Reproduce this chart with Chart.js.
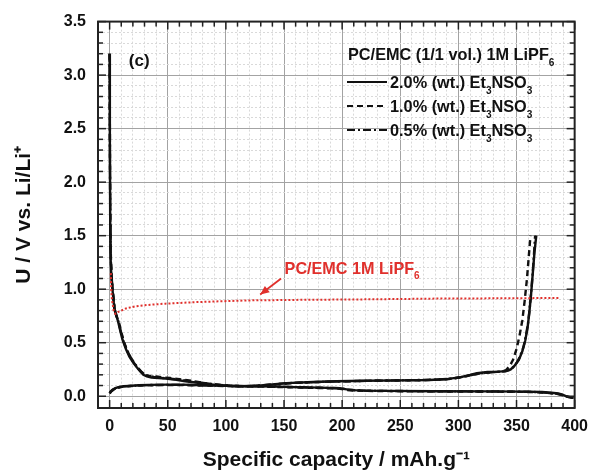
<!DOCTYPE html>
<html>
<head>
<meta charset="utf-8">
<script src="https://cdn.jsdelivr.net/npm/chart.js@4.4.1/dist/chart.umd.min.js"></script>
<style>
html,body{margin:0;padding:0;background:#fff;}
#c{display:block;}
</style>
</head>
<body>
<canvas id="c" width="597" height="475"></canvas>
<script>
// ---------- data ----------
const xTickValues = [0, 50, 100, 150, 200, 250, 300, 350, 400];
const yTickValues = [0.0, 0.5, 1.0, 1.5, 2.0, 2.5, 3.0, 3.5];
const xMinorStep = 10;
const yMinorStep = 0.1;

// 2.0 % (wt.) Et3NSO3 - solid
const s20UpX = [0,0.2,0.5,0.8,1.5,2.5,4,5.5,7,9, 11,14,17,20,23,26,29,32,36,42, 48,56,65,74,82,92,104,117,130,152, 175,195,220,250,275,290,302,310,316,325, 335,341,345,348,352,355,357.5,359.5,361,362.5, 364,365.5,367];
const s20UpY = [3.2,2.4,1.6,1.3,1.12,0.99,0.82,0.76,0.71,0.62, 0.53,0.44,0.37,0.32,0.275,0.235,0.2,0.185,0.175,0.17, 0.165,0.155,0.14,0.128,0.115,0.105,0.095,0.092,0.1,0.122, 0.133,0.14,0.144,0.148,0.152,0.16,0.178,0.198,0.215,0.226, 0.23,0.235,0.25,0.28,0.34,0.42,0.52,0.64,0.78,0.95, 1.15,1.35,1.5];
const s20LoX = [0,1,2.5,5,7.5,12,17,25,34,50, 62,80,104,130,152,180,198,204,210,220, 240,280,330,358,372,380,386,390,394,399];
const s20LoY = [0.03,0.045,0.06,0.075,0.085,0.093,0.097,0.102,0.106,0.108, 0.108,0.103,0.097,0.093,0.087,0.08,0.075,0.064,0.057,0.052, 0.05,0.047,0.045,0.043,0.039,0.033,0.025,0.012,-0.005,-0.015];

// 1.0 % (wt.) Et3NSO3 - dashed
const d10UpX = [0,0.3,0.7,1.2,2,3,4.5,6,8,10, 12.5,15,18,21,24,27,30,34,40,46, 52,60,70,80,90,100,112,125,140,160, 185,210,240,270,290,302,312,320,330,338, 341,344,347,350,352.5,355,357,359,360.5,362];
const d10UpY = [3.2,2.2,1.5,1.25,1.08,0.95,0.81,0.75,0.69,0.6, 0.5,0.43,0.36,0.31,0.265,0.23,0.2,0.19,0.185,0.175, 0.17,0.16,0.145,0.125,0.11,0.1,0.094,0.096,0.108,0.125, 0.135,0.142,0.146,0.15,0.158,0.176,0.2,0.216,0.225,0.232, 0.245,0.28,0.34,0.44,0.56,0.71,0.89,1.1,1.3,1.5];
const d10LoX = [0,1,2.5,5,8,12,18,26,36,50, 65,85,105,130,155,180,197,203,209,220, 240,280,330,360,372,380,386,391,395,399];
const d10LoY = [0.025,0.04,0.055,0.07,0.082,0.09,0.095,0.1,0.103,0.104, 0.104,0.1,0.094,0.09,0.084,0.077,0.072,0.06,0.054,0.05, 0.048,0.045,0.043,0.04,0.035,0.028,0.02,0.006,-0.008,-0.015];

// 0.5 % (wt.) Et3NSO3 - dash-dot
const dd05UpX = [0,0.25,0.6,1,1.8,2.8,4.2,5.8,7.5,9.5, 12,15,18,21,24,27,30,33,38,44, 50,58,67,76,85,95,106,118,132,150, 175,200,230,260,282,296,306,314,322,332, 340,344,347,350,353,356,358,360,361.5,363, 364.5,366];
const dd05UpY = [3.2,2.3,1.55,1.28,1.1,0.97,0.82,0.75,0.7,0.61, 0.51,0.43,0.365,0.315,0.27,0.232,0.205,0.19,0.18,0.172, 0.166,0.157,0.143,0.13,0.117,0.106,0.096,0.094,0.102,0.12, 0.132,0.139,0.145,0.15,0.155,0.166,0.185,0.205,0.218,0.227, 0.232,0.245,0.27,0.31,0.37,0.46,0.56,0.69,0.84,1.02, 1.24,1.5];
const dd05LoX = [0,1,2.5,5,8,12,18,26,36,50, 65,85,105,130,155,180,199,205,211,222, 245,285,330,358,371,379,385,390,394,399];
const dd05LoY = [0.028,0.043,0.058,0.073,0.084,0.092,0.096,0.101,0.105,0.106, 0.106,0.101,0.096,0.092,0.086,0.079,0.074,0.062,0.056,0.051, 0.049,0.046,0.044,0.042,0.037,0.03,0.022,0.01,-0.006,-0.015];

// PC/EMC 1M LiPF6 (no additive) - red dotted
const refX = [1,1.3,2,3.5,5,7,10,14,22,35,48,76,118,160,220,280,340,387];
const refY = [1.15,1.0,0.9,0.8,0.77,0.785,0.8,0.82,0.84,0.855,0.865,0.88,0.895,0.9,0.905,0.912,0.915,0.918];

// ---------- helpers ----------
const FAM = "'Liberation Sans', Arial, Helvetica, sans-serif";
const pts = (xs, ys) => xs.map((v, i) => ({x: v, y: ys[i]}));
const near = (a, b) => Math.abs(a - b) < 1e-6;
const isMajorX = v => xTickValues.some(t => near(t, v));
const isMajorY = v => yTickValues.some(t => near(t, v));
const xMinor = [];
for (let i = 0; i * xMinorStep <= 400 + 1e-9; i++) xMinor.push(i * xMinorStep);
const yMinor = [];
for (let i = 0; i * yMinorStep <= 3.5 + 1e-9; i++) yMinor.push(Math.round(i * yMinorStep * 10) / 10);

const BLACK = '#111111';
const RED = '#e0302c';
const SOLID = [];
const DASH = [6, 4];
const DASHDOT = [8, 3, 2, 3];

function line(ctx, x1, y1, x2, y2) {
  ctx.beginPath(); ctx.moveTo(x1, y1); ctx.lineTo(x2, y2); ctx.stroke();
}
function rich(ctx, x, y, parts, size, color) {
  let cx = x;
  ctx.fillStyle = color;
  ctx.textBaseline = 'alphabetic';
  ctx.textAlign = 'left';
  parts.forEach(p => {
    const s = (p.sub || p.sup) ? size * 0.62 : size;
    ctx.font = `bold ${s}px ${FAM}`;
    const dy = p.sub ? size * 0.36 : (p.sup ? -size * 0.45 : 0);
    ctx.fillText(p.t, cx, y + dy);
    cx += ctx.measureText(p.t).width;
  });
}

const legendEntries = [
  {dash: SOLID,   parts: [{t: '2.0% (wt.) Et'}, {t: '3', sub: true}, {t: 'NSO'}, {t: '3', sub: true}]},
  {dash: DASH,    parts: [{t: '1.0% (wt.) Et'}, {t: '3', sub: true}, {t: 'NSO'}, {t: '3', sub: true}]},
  {dash: DASHDOT, parts: [{t: '0.5% (wt.) Et'}, {t: '3', sub: true}, {t: 'NSO'}, {t: '3', sub: true}]}
];

const deco = {
  id: 'deco',
  afterDatasetsDraw(chart) {
    const {ctx, chartArea: a, scales: {x, y}} = chart;
    ctx.save();
    // inward tick marks on all four sides
    ctx.strokeStyle = '#222';
    ctx.lineWidth = 1.5;
    ctx.setLineDash([]);
    xMinor.forEach(v => {
      const px = x.getPixelForValue(v);
      const L = isMajorX(v) ? 8 : 5;
      line(ctx, px, a.bottom, px, a.bottom - L);
      line(ctx, px, a.top, px, a.top + L);
    });
    yMinor.forEach(v => {
      const py = y.getPixelForValue(v);
      const L = isMajorY(v) ? 8 : 5;
      line(ctx, a.left, py, a.left + L, py);
      line(ctx, a.right, py, a.right - L, py);
    });
    // frame
    ctx.lineWidth = 2;
    ctx.strokeRect(a.left, a.top, a.right - a.left, a.bottom - a.top);

    // panel label
    rich(ctx, x.getPixelForValue(16.5), y.getPixelForValue(3.085), [{t: '(c)'}], 17, BLACK);

    // legend
    const lx0 = 347, lx1 = 387, tx = 390;
    rich(ctx, 348, 60, [{t: 'PC/EMC (1/1 vol.) 1M LiPF'}, {t: '6', sub: true}], 16.3, BLACK);
    legendEntries.forEach((e, i) => {
      const base = 88 + i * 24;
      ctx.strokeStyle = BLACK;
      ctx.lineWidth = 2.2;
      ctx.setLineDash(e.dash);
      line(ctx, lx0, base - 6, lx1, base - 6);
      ctx.setLineDash([]);
      rich(ctx, tx, base, e.parts, 16.3, BLACK);
    });

    // red annotation with arrow
    rich(ctx, x.getPixelForValue(150.5), y.getPixelForValue(1.146), [{t: 'PC/EMC 1M LiPF'}, {t: '6', sub: true}], 16.2, RED);
    const ax1 = x.getPixelForValue(147.5), ay1 = y.getPixelForValue(1.10);
    const ax2 = x.getPixelForValue(129.5), ay2 = y.getPixelForValue(0.95);
    ctx.strokeStyle = RED; ctx.fillStyle = RED; ctx.lineWidth = 1.8;
    line(ctx, ax1, ay1, ax2, ay2);
    const ang = Math.atan2(ay2 - ay1, ax2 - ax1);
    const hl = 9, hw = 4;
    ctx.beginPath();
    ctx.moveTo(ax2, ay2);
    ctx.lineTo(ax2 - hl * Math.cos(ang) + hw * Math.sin(ang), ay2 - hl * Math.sin(ang) - hw * Math.cos(ang));
    ctx.lineTo(ax2 - hl * Math.cos(ang) - hw * Math.sin(ang), ay2 - hl * Math.sin(ang) + hw * Math.cos(ang));
    ctx.closePath();
    ctx.fill();
    ctx.restore();
  }
};

function ds(label, xs, ys, color, dash, width) {
  return {
    label, data: pts(xs, ys), showLine: true, borderColor: color, backgroundColor: color,
    borderDash: dash, borderWidth: width, pointRadius: 0, pointHoverRadius: 0, tension: 0, fill: false
  };
}

new Chart(document.getElementById('c'), {
  type: 'scatter',
  data: {
    datasets: [
      ds('PC/EMC 1M LiPF6', refX, refY, RED, [2, 2], 2),
      ds('0.5% (wt.) Et3NSO3', dd05UpX, dd05UpY, BLACK, DASHDOT, 2.4),
      ds('0.5% (wt.) Et3NSO3 ', dd05LoX, dd05LoY, BLACK, DASHDOT, 2.4),
      ds('1.0% (wt.) Et3NSO3', d10UpX, d10UpY, BLACK, DASH, 2.4),
      ds('1.0% (wt.) Et3NSO3 ', d10LoX, d10LoY, BLACK, DASH, 2.4),
      ds('2.0% (wt.) Et3NSO3', s20UpX, s20UpY, BLACK, SOLID, 2.4),
      ds('2.0% (wt.) Et3NSO3 ', s20LoX, s20LoY, BLACK, SOLID, 2.4)
    ]
  },
  options: {
    responsive: false,
    devicePixelRatio: 1,
    animation: false,
    layout: {padding: {top: 21, right: 15, left: 0, bottom: 0}},
    plugins: {legend: {display: false}, tooltip: {enabled: false}},
    scales: {
      x: {
        type: 'linear', min: -10, max: 400,
        afterBuildTicks: s => { s.ticks = xMinor.map(v => ({value: v})); },
        afterFit: s => { s.height = 67; },
        ticks: {
          autoSkip: false, maxRotation: 0, padding: 9, color: BLACK,
          font: {family: FAM, size: 16, weight: 'bold'},
          callback: v => isMajorX(v) ? String(v) : ''
        },
        grid: {
          drawTicks: false, lineWidth: 1,
          color: c => (c.tick && isMajorX(c.tick.value)) ? '#a3a3a3' : '#d9d9d9'
        },
        border: {
          display: true, color: '#222', width: 2,
          dash: c => (c.tick && !isMajorX(c.tick.value)) ? [2, 2] : []
        },
        title: {
          display: true, text: 'Specific capacity / mAh.g⁻¹', color: BLACK,
          font: {family: FAM, size: 21, weight: 'bold'}, padding: {top: 4, bottom: 2}
        }
      },
      y: {
        type: 'linear', min: -0.11, max: 3.5,
        afterBuildTicks: s => { s.ticks = yMinor.map(v => ({value: v})); },
        afterFit: s => { s.width = 98; },
        ticks: {
          autoSkip: false, padding: 12, color: BLACK,
          font: {family: FAM, size: 16, weight: 'bold'},
          callback: v => isMajorY(v) ? v.toFixed(1) : ''
        },
        grid: {
          drawTicks: false, lineWidth: 1,
          color: c => (c.tick && isMajorY(c.tick.value)) ? '#a3a3a3' : '#d9d9d9'
        },
        border: {
          display: true, color: '#222', width: 2,
          dash: c => (c.tick && !isMajorY(c.tick.value)) ? [2, 2] : []
        },
        title: {
          display: true, text: 'U / V vs. Li/Li⁺', color: BLACK,
          font: {family: FAM, size: 21, weight: 'bold'}, padding: {top: 12, bottom: 0}
        }
      }
    }
  },
  plugins: [deco]
});
</script>
</body>
</html>
